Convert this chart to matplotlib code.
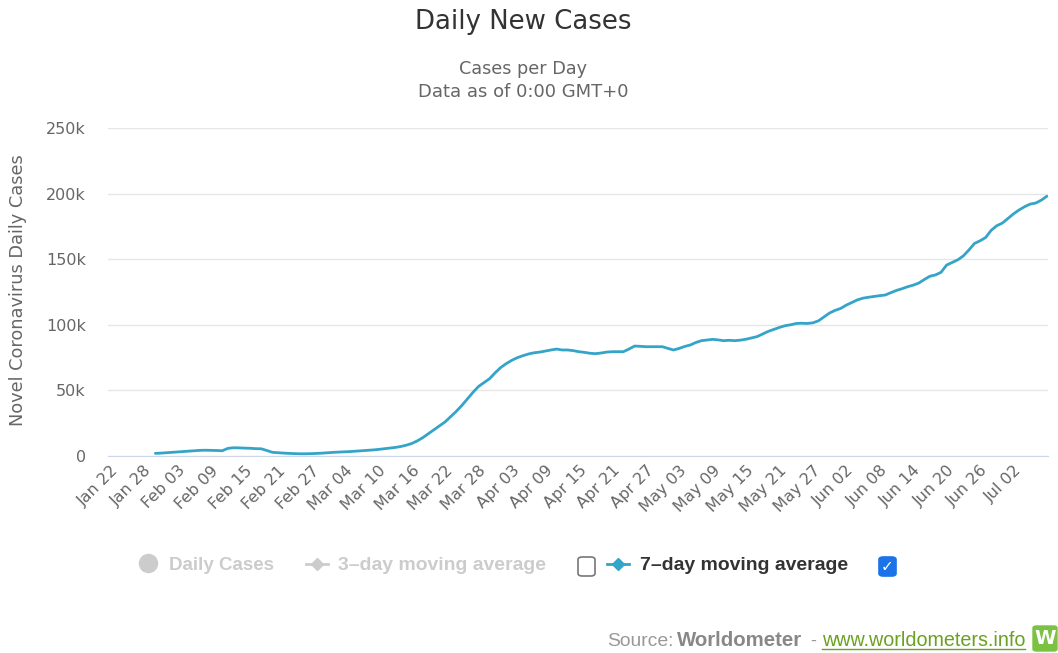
import numpy as np
import pandas as pd
import matplotlib.pyplot as plt
from matplotlib.patches import FancyBboxPatch
from matplotlib.lines import Line2D

# 7-day moving average of daily new cases (thousands), Jan 30 .. Jul 08 2020
first_day = '2020-01-30'
avg7 = [
    2.0, 2.2, 2.5, 2.8, 3.1, 3.4, 3.7, 4.0, 4.3, 4.4,
    4.3, 4.2, 4.0, 5.8, 6.3, 6.2, 6.0, 5.9, 5.6, 5.5,
    4.2, 2.8, 2.5, 2.2, 2.0, 1.8, 1.7, 1.7, 1.8, 2.0,
    2.2, 2.5, 2.8, 3.0, 3.2, 3.4, 3.7, 4.0, 4.3, 4.6,
    5.0, 5.5, 6.0, 6.5, 7.2, 8.2, 9.5, 11.5, 14.0, 17.0,
    20.0, 23.0, 26.0, 30.0, 34.0, 38.5, 43.5, 48.5, 53.0, 56.0,
    59.0, 63.5, 67.5, 70.5, 73.0, 75.0, 76.5, 77.8, 78.7, 79.2,
    80.0, 80.8, 81.5, 80.8, 80.8, 80.3, 79.5, 79.0, 78.3, 78.0,
    78.5, 79.2, 79.5, 79.5, 79.5, 81.5, 83.8, 83.6, 83.3, 83.3,
    83.3, 83.3, 82.0, 80.8, 82.0, 83.5, 84.6, 86.5, 87.9, 88.4,
    88.9, 88.5, 87.9, 88.2, 87.9, 88.3, 89.0, 90.0, 91.0, 93.0,
    95.0, 96.5, 98.0, 99.3, 100.0, 101.0, 101.2, 101.0, 101.5, 103.0,
    106.0, 109.0, 111.0, 112.5, 115.0, 117.0, 119.0, 120.3, 121.0, 121.6,
    122.2, 122.7, 124.5, 126.2, 127.5, 129.0, 130.2, 131.8, 134.5, 137.0,
    138.0, 140.0, 145.5, 147.5, 149.5, 152.5, 157.0, 162.0, 164.0, 166.5,
    172.0, 175.5, 177.5, 181.0, 184.5, 187.5, 190.0, 192.0, 192.8, 195.0,
    198.0,
]
y_ticks = [0, 50000, 100000, 150000, 200000, 250000]
y_tick_labels = ['0', '50k', '100k', '150k', '200k', '250k']
legend_names = ['Daily Cases', '3\u2013day moving average', '7\u2013day moving average']

start = pd.Timestamp('2020-01-22')
dates = pd.date_range(first_day, periods=len(avg7))
day_idx = (dates - start).days
values = np.array(avg7) * 1000
tick_days = np.arange(0, 163, 6)
tick_labels = [(start + pd.Timedelta(days=int(d))).strftime('%b %d') for d in tick_days]

W, H = 1058, 653
fig = plt.figure(figsize=(W / 100, H / 100), dpi=100)
plt.rcParams['font.family'] = ['DejaVu Sans']


def fx(px):
    return px / W


def fy(py):
    return 1 - py / H


ax = fig.add_axes([fx(108), fy(456), fx(1048) - fx(108), fy(128) - fy(456)])
ax.plot(day_idx, values, color='#34a4c8', lw=2.0, solid_capstyle='round')
ax.set_xlim(-0.5, 168.2)
ax.set_ylim(0, 250000)
ax.set_yticks(y_ticks)
ax.set_yticklabels(y_tick_labels)
ax.set_xticks(tick_days)
ax.set_xticklabels(tick_labels, rotation=45, ha='right', rotation_mode='anchor')
ax.tick_params(axis='both', length=0, colors='#666666', labelsize=11.5)
ax.tick_params(axis='y', pad=16)
ax.tick_params(axis='x', pad=5)
ax.grid(axis='y', color='#e6e6e6', lw=1)
ax.set_axisbelow(True)
for s in ['top', 'right', 'left']:
    ax.spines[s].set_visible(False)
ax.spines['bottom'].set_color('#ccd6eb')

ylab = fig.text(fx(18), fy(290), 'Novel Coronavirus Daily Cases', rotation=90,
                ha='center', va='center', color='#666666', fontsize=12)

# titles
t1 = fig.text(fx(523), fy(22), 'Daily New Cases', ha='center', va='center',
              fontsize=18, color='#333333')
t2 = fig.text(fx(523), fy(69), 'Cases per Day', ha='center', va='center',
              fontsize=12, color='#666666')
t3 = fig.text(fx(523), fy(92), 'Data as of 0:00 GMT+0', ha='center', va='center',
              fontsize=12, color='#666666')

# legend
lg = dict(ha='left', va='baseline', fontsize=13, weight='bold',
          family='Liberation Sans')
fig.add_artist(Line2D([fx(148)], [fy(563)], marker='o', ms=13, color='#cccccc',
                      transform=fig.transFigure))
l1 = fig.text(fx(169), fy(570), legend_names[0], color='#cccccc', **lg)
fig.add_artist(Line2D([fx(306), fx(328)], [fy(564), fy(564)], color='#cccccc', lw=2,
                      transform=fig.transFigure))
fig.add_artist(Line2D([fx(317)], [fy(564)], marker='D', ms=6, color='#cccccc',
                      transform=fig.transFigure))
l2 = fig.text(fx(338), fy(570), legend_names[1], color='#cccccc', **lg)
fig.add_artist(FancyBboxPatch((fx(578), fy(576)), fx(17), fy(557) - fy(576),
                              boxstyle='round,pad=0,rounding_size=0.004',
                              fc='white', ec='#777777', lw=1.2, transform=fig.transFigure))
fig.add_artist(Line2D([fx(607), fx(629)], [fy(564), fy(564)], color='#34a4c8', lw=2,
                      transform=fig.transFigure))
fig.add_artist(Line2D([fx(618)], [fy(564)], marker='D', ms=6, color='#34a4c8',
                      transform=fig.transFigure))
l3 = fig.text(fx(640), fy(570), legend_names[2], color='#333333', **lg)
fig.add_artist(FancyBboxPatch((fx(879), fy(576)), fx(17), fy(557) - fy(576),
                              boxstyle='round,pad=0,rounding_size=0.004',
                              fc='#1a73e8', ec='#1a73e8', lw=1.2, transform=fig.transFigure))
fig.text(fx(887.5), fy(567), '\u2713', ha='center', va='center', fontsize=11,
         weight='bold', color='white', family='DejaVu Sans')

# source line
src = dict(ha='left', va='baseline', fontsize=13, family='Liberation Sans')
s1 = fig.text(fx(607), fy(646), 'Source:', color='#999999', **src)
s2 = fig.text(fx(677), fy(646), 'Worldometer', weight='bold', color='#888888', **src)
s3 = fig.text(fx(810), fy(646), '-', color='#999999', **src)
s4 = fig.text(fx(822), fy(646), 'www.worldometers.info', color='#6aa121', **src)
fig.add_artist(Line2D([fx(822), fx(1025)], [fy(649), fy(649)], color='#6aa121', lw=1,
                      transform=fig.transFigure))
fig.add_artist(FancyBboxPatch((fx(1033), fy(651)), fx(24), fy(626) - fy(651),
                              boxstyle='round,pad=0,rounding_size=0.003',
                              fc='#7cc242', ec='#7cc242', transform=fig.transFigure))
fig.text(fx(1045), fy(639), 'W', ha='center', va='center', fontsize=14,
         weight='bold', color='white', family='DejaVu Sans')

# scale texts so their widths match the reference
fig.canvas.draw()
rend = fig.canvas.get_renderer()
targets = [(t1, 217, 'w'), (t2, 127, 'w'), (t3, 211, 'w'), (ylab, 270, 'h'),
           (l1, 105, 'w'), (l2, 207, 'w'), (l3, 207, 'w'),
           (s1, 66, 'w'), (s2, 125, 'w'), (s4, 203, 'w')]
for t, size, dim in targets:
    bb = t.get_window_extent(rend)
    cur = bb.width if dim == 'w' else bb.height
    t.set_fontsize(t.get_fontsize() * size / cur)

fig.savefig('out.png', dpi=100, facecolor='white')
